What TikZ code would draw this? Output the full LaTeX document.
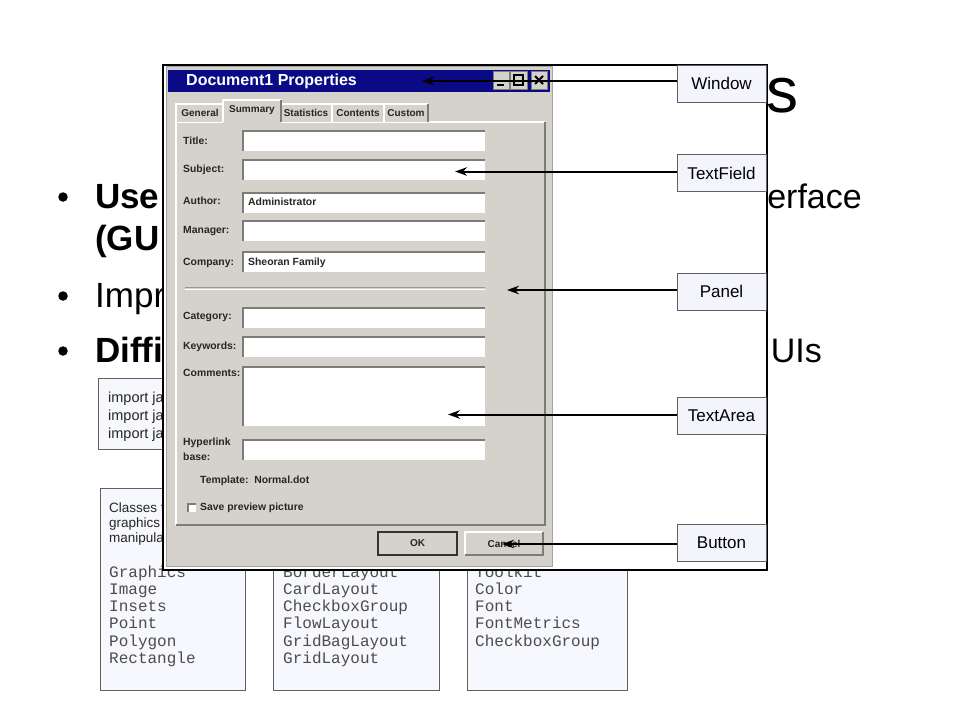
\documentclass[tikz,border=0pt]{standalone}
\usepackage{fontspec}
\setmainfont{Liberation Sans}
\newfontfamily\monofont{Liberation Mono}
\usetikzlibrary{arrows.meta}
\definecolor{dlg}{HTML}{D4D2CA}
\definecolor{navy}{HTML}{0A0A86}
\definecolor{lblfill}{HTML}{F4F5FC}
\definecolor{codefill}{HTML}{F7F8FD}
\definecolor{edgegray}{HTML}{606060}
\definecolor{shadow}{HTML}{7C7C78}
\newcommand\dlgfield[4]{\fill[white] (#1,#2) rectangle (#3,#4);
  \draw[shadow, line width=1.3] (#1,#4)--(#1,#2)--(#3,#2);}
\begin{document}
\begin{tikzpicture}[x=1pt,y=-1pt,
  bul/.style={anchor=base west, inner sep=0, font=\fontsize{35}{40}\selectfont},
  bulb/.style={anchor=base west, inner sep=0, font=\bfseries\fontsize{35}{40}\selectfont},
  bulr/.style={anchor=base east, inner sep=0, font=\fontsize{34}{40}\selectfont},
  dot/.style={circle, fill=black, inner sep=0, minimum size=9.5},
  codebox/.style={draw=edgegray, fill=codefill, line width=0.9},
  sanstxt/.style={anchor=base west, inner sep=0, text=black!85, font=\fontsize{13.5}{15}\selectfont},
  imptxt/.style={anchor=base west, inner sep=0, text=black!85, font=\fontsize{14.5}{16}\selectfont},
  monotxt/.style={anchor=base west, inner sep=0, text=black!70, font=\monofont\fontsize{16}{17}\selectfont},
  flabel/.style={anchor=west, inner sep=0, text=black!85, font=\bfseries\fontsize{10.4}{12}\selectfont},
  tabtxt/.style={inner sep=0, text=black!85, font=\bfseries\fontsize{10}{12}\selectfont},
  lbl/.style={draw=edgegray, fill=lblfill, line width=0.9, minimum width=89, minimum height=37, inner sep=0, font=\fontsize{17}{20}\selectfont},
  arr/.style={line width=2, -{Stealth[length=12, width=8.5]}}
]
\useasboundingbox (0,0) rectangle (960,720);
\fill[white] (0,0) rectangle (960,720);

% ---------- slide underneath ----------
\node[anchor=base east, inner sep=0, font=\fontsize{64}{70}\selectfont] (title) at (799,112) {s};

\node[dot] (d1) at (63,197) {};
\node[dot] (d3) at (63,296) {};
\node[dot] (d4) at (63,351) {};
\node[bulb] (b1) at (95,208) {Use};
\node[bulb] (b2) at (95,250) {(GU};
\node[bul] (b3) at (95,307) {Impr};
\node[bulb] (b4) at (95,362) {Diffi};
\node[bulr] (b1r) at (862,208) {erface};
\node[bulr] (b4r) at (822,362) {UIs};

% code boxes
\draw[codebox] (98,378) rectangle (230,449);
\node[imptxt] (i1) at (108,402) {import ja};
\node[imptxt] (i2) at (108,420) {import ja};
\node[imptxt] (i3) at (108,438) {import ja};

\draw[codebox] (100,488) rectangle (245,690);
\draw[codebox] (273,488) rectangle (439,690);
\draw[codebox] (467,488) rectangle (627,690);

\node[sanstxt] (c1) at (109,512) {Classes f};
\node[sanstxt] (c2) at (109,527) {graphics};
\node[sanstxt] (c3) at (109,542) {manipula};

\foreach \t [count=\i from 0] in {Graphics,Image,Insets,Point,Polygon,Rectangle}
  \node[monotxt] (ma\i) at (109,577+17.3*\i) {\t};
\foreach \t [count=\i from 0] in {BorderLayout,CardLayout,CheckboxGroup,FlowLayout,GridBagLayout,GridLayout}
  \node[monotxt] (mb\i) at (283,577+17.3*\i) {\t};
\foreach \t [count=\i from 0] in {Toolkit,Color,Font,FontMetrics,CheckboxGroup}
  \node[monotxt] (mc\i) at (475,577+17.3*\i) {\t};

% ---------- overlay picture ----------
\draw[black, line width=1.3, fill=white] (163,65) rectangle (767,570);

% dialog
\draw[fill=dlg, draw=shadow!70] (166,66) rectangle (552,566);
\fill[navy] (168,70) rectangle (550,92);
\node[anchor=west, inner sep=0, text=white, font=\bfseries\fontsize{16}{18}\selectfont] (dtitle) at (186,81) {Document1 Properties};
% title buttons
\draw[fill=dlg, draw=shadow] (493,71) rectangle (509,89);
\draw[line width=1.8] (497,85) -- (504,85);
\draw[fill=dlg, draw=shadow] (510,71) rectangle (527,89);
\draw[line width=1.2] (514,75) rectangle (523,85);
\draw[line width=1.5] (514,75.5) -- (523,75.5);
\draw[fill=dlg, draw=shadow] (531,71) rectangle (547,89);
\draw[line width=1.8] (535,76) -- (543,84) (543,76) -- (535,84);

% tab panel
\draw[white, line width=1.2] (176,525) -- (176,122) -- (545,122);
\draw[shadow, line width=1.5] (545,122) -- (545,525) -- (176,525);
% tabs
\foreach \a/\b/\c in {176/223/104,281/332/104,332/384/104,384/428/104}{
  \fill[dlg] (\a,\c) rectangle (\b,122);
  \draw[white, line width=1.2] (\a,122) -- (\a,\c) -- (\b,\c);
  \draw[shadow, line width=1.2] (\b,\c) -- (\b,122);
}
\fill[dlg] (223,100) rectangle (281,123.5);
\draw[white, line width=1.2] (223,122) -- (223,100) -- (281,100);
\draw[shadow, line width=1.2] (281,100) -- (281,122);
\node[tabtxt] (tg) at (200,113) {General};
\node[tabtxt] (ts) at (252,110) {Summary};
\node[tabtxt] (tst) at (306,113) {Statistics};
\node[tabtxt] (tc) at (358,113) {Contents};
\node[tabtxt] (tcu) at (406,113) {Custom};

% fields
\dlgfield{243}{131}{485}{151}
\dlgfield{243}{160}{485}{180}
\dlgfield{243}{193}{485}{213}
\dlgfield{243}{221}{485}{241}
\dlgfield{243}{252}{485}{272}
\dlgfield{243}{308}{485}{328}
\dlgfield{243}{337}{485}{357}
\dlgfield{243}{367}{485}{426}
\dlgfield{243}{440}{485}{460}

\node[flabel] (lt) at (183,141) {Title:};
\node[flabel] (ls) at (183,170) {Subject:};
\node[flabel] (la) at (183,201) {Author:};
\node[flabel] (lm) at (183,231) {Manager:};
\node[flabel] (lco) at (183,263) {Company:};
\node[flabel] (lca) at (183,317) {Category:};
\node[flabel] (lk) at (183,347) {Keywords:};
\node[flabel] (lcm) at (183,373) {Comments:};
\node[flabel] (lh) at (183,443) {Hyperlink};
\node[flabel] (lb) at (183,457) {base:};
\node[flabel] (va) at (248,202) {Administrator};
\node[flabel] (vc) at (248,263) {Sheoran Family};

% separator
\draw[shadow!80] (185,287.5) -- (485,287.5);
\draw[white] (185,289) -- (485,289);

\node[flabel] (tpl) at (200,481) {Template:\ \ Normal.dot};
\fill[white] (188,504) rectangle (196,512);
\draw[shadow, line width=1.2] (188,512) -- (188,504) -- (196,504);
\node[flabel] (sv) at (200,508) {Save preview picture};

% buttons
\draw[fill=dlg, draw=black!80, line width=1.3] (378,532) rectangle (457,555);
\node[tabtxt] (okt) at (417.5,543.5) {OK};
\fill[dlg] (465,532) rectangle (543,555);
\draw[white, line width=1.2] (465,555) -- (465,532) -- (543,532);
\draw[shadow, line width=1.4] (543,532) -- (543,555) -- (465,555);
\node[tabtxt] (cat) at (504,543.5) {Cancel};

% labels
\node[lbl] (lw) at (721.5,83.5) {Window};
\node[lbl] (ltf) at (721.5,173) {TextField};
\node[lbl] (lp) at (721.5,291.5) {Panel};
\node[lbl] (lta) at (721.5,416) {TextArea};
\node[lbl] (lbt) at (721.5,543) {Button};

\coordinate (tW) at (422,81);
\coordinate (tTF) at (455,171.5);
\coordinate (tP) at (507,290);
\coordinate (tTA) at (448,414.5);
\coordinate (tB) at (502,544);

\draw[arr] (lw.west |- tW) -- (tW);
\draw[arr] (ltf.west |- tTF) -- (tTF);
\draw[arr] (lp.west |- tP) -- (tP);
\draw[arr] (lta.west |- tTA) -- (tTA);
\draw[arr] (lbt.west |- tB) -- (tB);
\end{tikzpicture}
\end{document}
